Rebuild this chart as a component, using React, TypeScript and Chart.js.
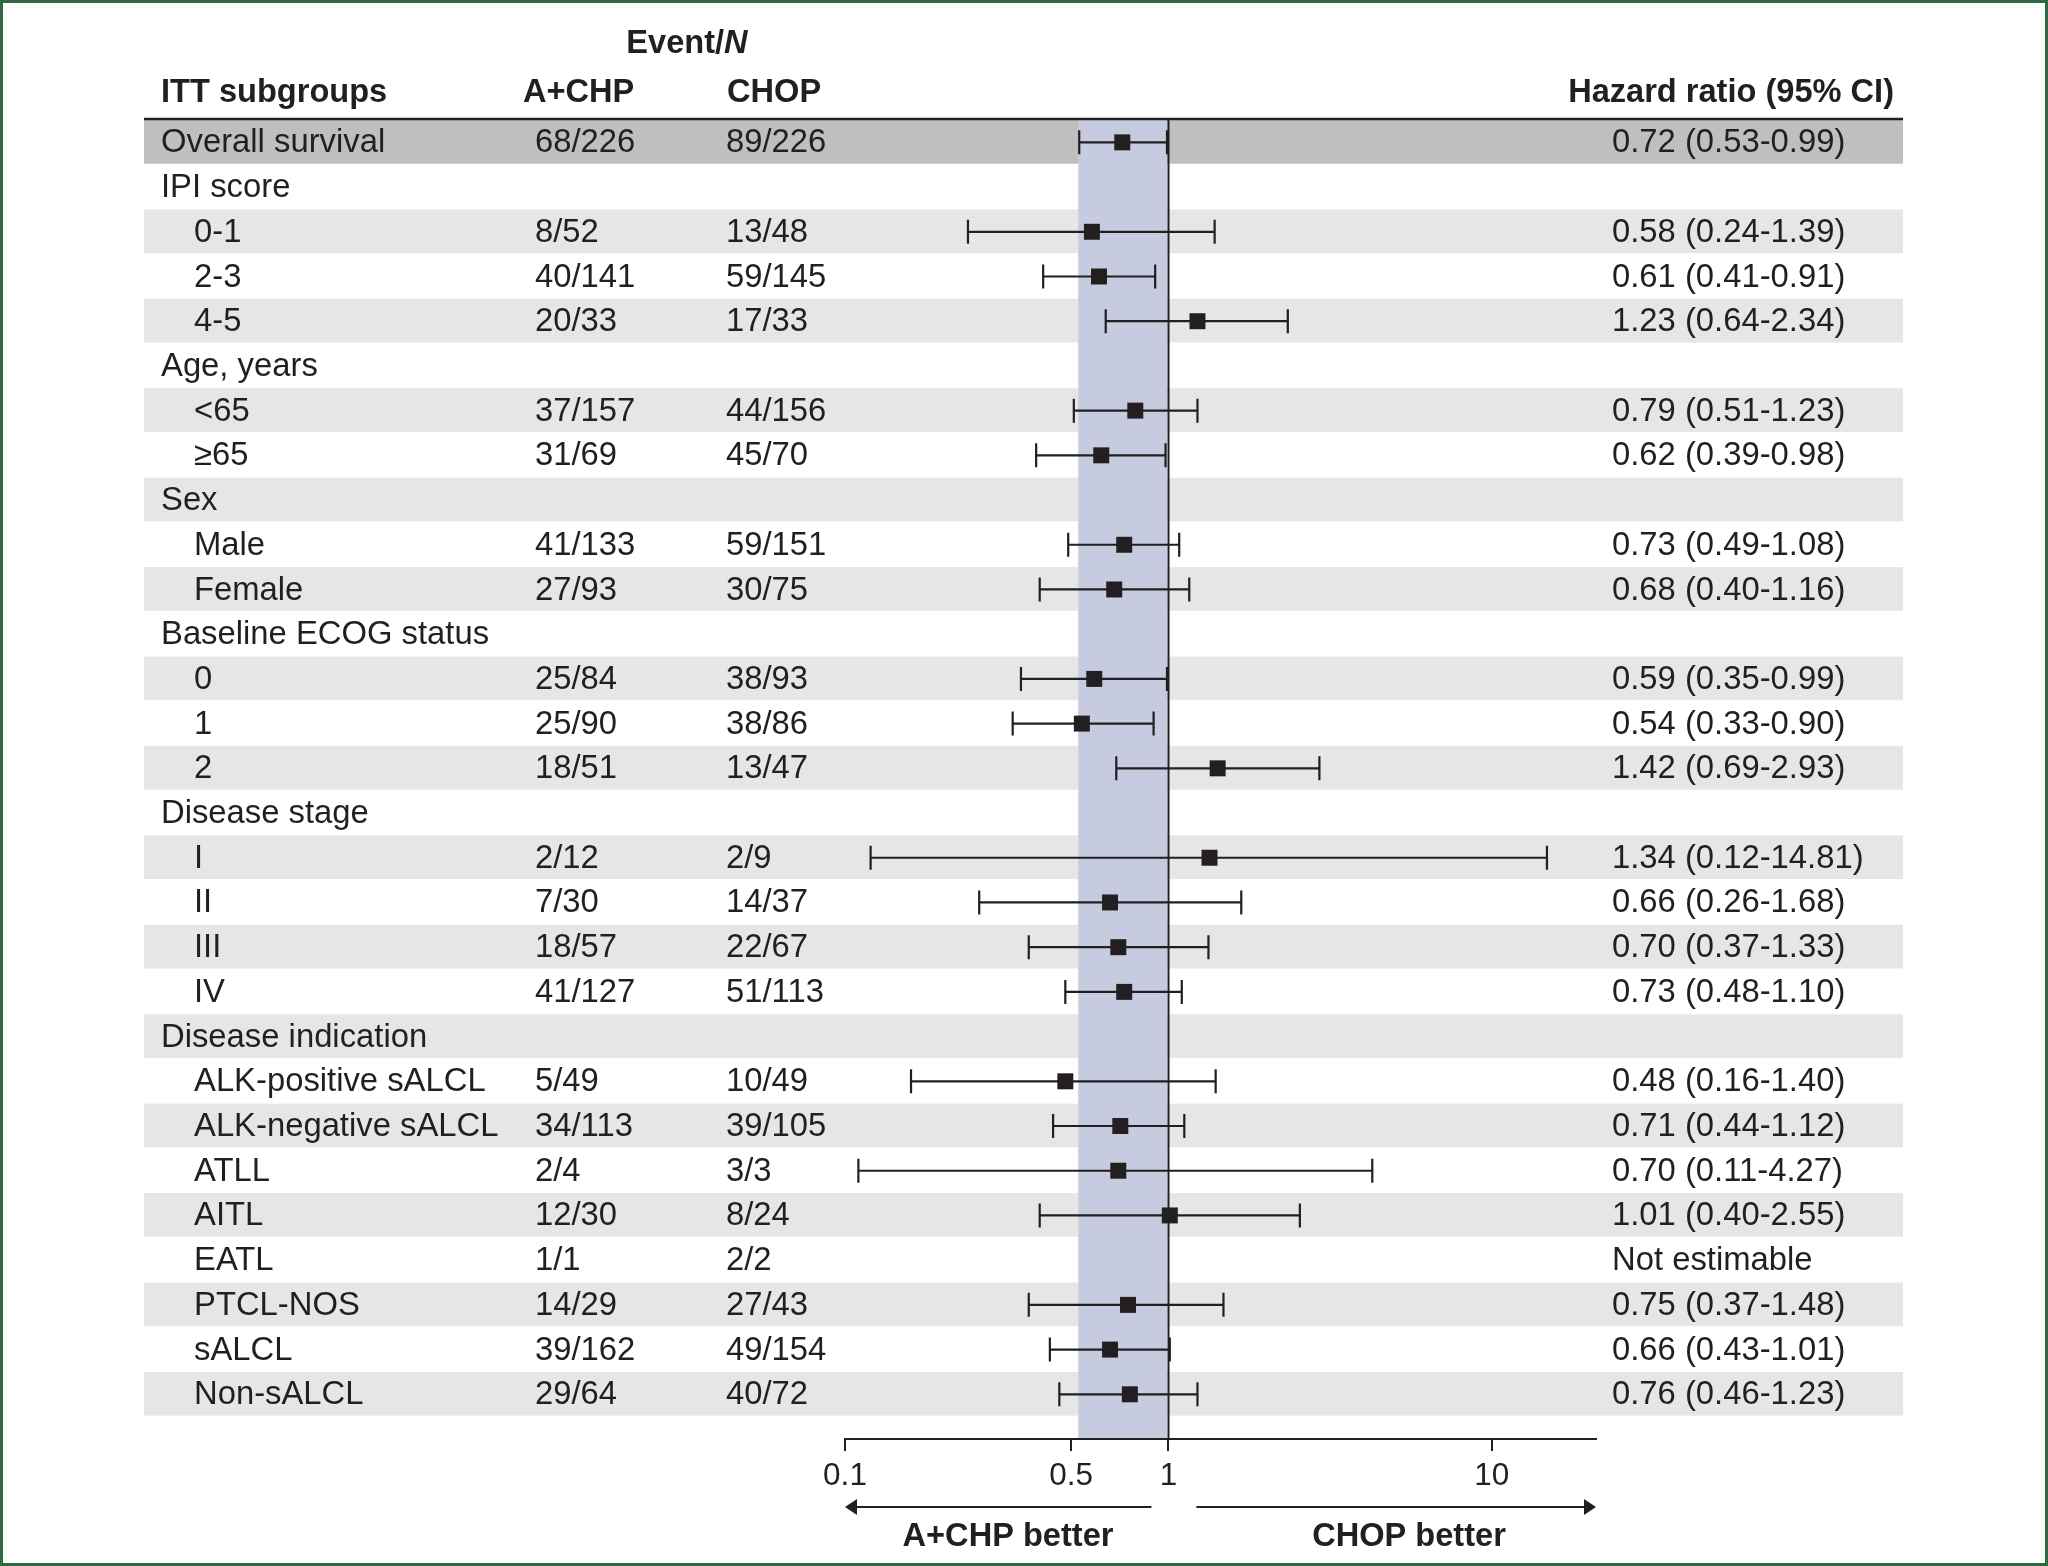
import { useEffect, useRef } from "react";
import { Chart, registerables } from "chart.js";

Chart.register(...registerables);

const subgroups = [
  "Overall survival", "IPI score", "0-1", "2-3", "4-5", "Age, years", "<65", "≥65",
  "Sex", "Male", "Female", "Baseline ECOG status", "0", "1", "2", "Disease stage",
  "I", "II", "III", "IV", "Disease indication", "ALK-positive sALCL", "ALK-negative sALCL",
  "ATLL", "AITL", "EATL", "PTCL-NOS", "sALCL", "Non-sALCL",
];
const indented = [
  false, false, true, true, true, false, true, true, false, true, true, false, true, true, true,
  false, true, true, true, true, false, true, true, true, true, true, true, true, true,
];
const eventsACHP = [
  "68/226", "", "8/52", "40/141", "20/33", "", "37/157", "31/69", "", "41/133", "27/93", "",
  "25/84", "25/90", "18/51", "", "2/12", "7/30", "18/57", "41/127", "", "5/49", "34/113",
  "2/4", "12/30", "1/1", "14/29", "39/162", "29/64",
];
const eventsCHOP = [
  "89/226", "", "13/48", "59/145", "17/33", "", "44/156", "45/70", "", "59/151", "30/75", "",
  "38/93", "38/86", "13/47", "", "2/9", "14/37", "22/67", "51/113", "", "10/49", "39/105",
  "3/3", "8/24", "2/2", "27/43", "49/154", "40/72",
];
const hazardRatio: (number | null)[] = [
  0.72, null, 0.58, 0.61, 1.23, null, 0.79, 0.62, null, 0.73, 0.68, null, 0.59, 0.54, 1.42,
  null, 1.34, 0.66, 0.70, 0.73, null, 0.48, 0.71, 0.70, 1.01, null, 0.75, 0.66, 0.76,
];
const ciLow: (number | null)[] = [
  0.53, null, 0.24, 0.41, 0.64, null, 0.51, 0.39, null, 0.49, 0.40, null, 0.35, 0.33, 0.69,
  null, 0.12, 0.26, 0.37, 0.48, null, 0.16, 0.44, 0.11, 0.40, null, 0.37, 0.43, 0.46,
];
const ciHigh: (number | null)[] = [
  0.99, null, 1.39, 0.91, 2.34, null, 1.23, 0.98, null, 1.08, 1.16, null, 0.99, 0.90, 2.93,
  null, 14.81, 1.68, 1.33, 1.10, null, 1.40, 1.12, 4.27, 2.55, null, 1.48, 1.01, 1.23,
];
const hrLabels = [
  "0.72 (0.53-0.99)", "", "0.58 (0.24-1.39)", "0.61 (0.41-0.91)", "1.23 (0.64-2.34)", "",
  "0.79 (0.51-1.23)", "0.62 (0.39-0.98)", "", "0.73 (0.49-1.08)", "0.68 (0.40-1.16)", "",
  "0.59 (0.35-0.99)", "0.54 (0.33-0.90)", "1.42 (0.69-2.93)", "", "1.34 (0.12-14.81)",
  "0.66 (0.26-1.68)", "0.70 (0.37-1.33)", "0.73 (0.48-1.10)", "", "0.48 (0.16-1.40)",
  "0.71 (0.44-1.12)", "0.70 (0.11-4.27)", "1.01 (0.40-2.55)", "Not estimable",
  "0.75 (0.37-1.48)", "0.66 (0.43-1.01)", "0.76 (0.46-1.23)",
];
const xTicks = [0.1, 0.5, 1, 10];
const xMin = 0.1;
const xMax = 21;

const FONT = "'Liberation Sans', Arial, Helvetica, sans-serif";
const INK = "#231f20";
const TABLE_LEFT = 144;
const TABLE_RIGHT = 1903;
const BOLD = 32.6;
const REG = 32.8;

const forestPlugin = {
  id: "forest",
  beforeDraw(chart: any) {
    const { ctx, chartArea } = chart;
    const x = chart.scales.x;
    const y = chart.scales.y;
    ctx.save();
    ctx.fillStyle = "#ffffff";
    ctx.fillRect(0, 0, chart.width, chart.height);
    for (let i = 0; i < subgroups.length; i++) {
      let fill: string | null = null;
      if (i === 0) fill = "#bfbfc1";
      else if (i % 2 === 0) fill = "#e6e6e7";
      if (!fill) continue;
      const t = y.getPixelForValue(i - 0.5);
      const b = y.getPixelForValue(i + 0.5);
      ctx.fillStyle = fill;
      ctx.fillRect(TABLE_LEFT, t, TABLE_RIGHT - TABLE_LEFT, b - t - 1);
    }
    const bl = x.getPixelForValue(ciLow[0] as number);
    const br = x.getPixelForValue(ciHigh[0] as number);
    ctx.fillStyle = "#c6cbdf";
    ctx.fillRect(bl - 1, chartArea.top, br - bl + 1, chartArea.bottom - chartArea.top);
    ctx.restore();
  },
  beforeDatasetsDraw(chart: any) {
    const { ctx, chartArea } = chart;
    const x = chart.scales.x;
    const y = chart.scales.y;
    ctx.save();
    ctx.strokeStyle = INK;
    const x1 = Math.round(x.getPixelForValue(1)) + 0.5;
    ctx.lineWidth = 2;
    ctx.beginPath();
    ctx.moveTo(x1, chartArea.top);
    ctx.lineTo(x1, chartArea.bottom);
    ctx.stroke();
    ctx.lineWidth = 2.2;
    for (let i = 0; i < subgroups.length; i++) {
      const lo = ciLow[i];
      const hi = ciHigh[i];
      if (lo == null || hi == null) continue;
      const py = y.getPixelForValue(i);
      const xl = x.getPixelForValue(lo);
      const xr = x.getPixelForValue(hi);
      ctx.beginPath();
      ctx.moveTo(xl, py);
      ctx.lineTo(xr, py);
      ctx.moveTo(xl, py - 12);
      ctx.lineTo(xl, py + 12);
      ctx.moveTo(xr, py - 12);
      ctx.lineTo(xr, py + 12);
      ctx.stroke();
    }
    ctx.restore();
  },
  afterDraw(chart: any) {
    const { ctx } = chart;
    const x = chart.scales.x;
    const y = chart.scales.y;
    ctx.save();
    ctx.fillStyle = INK;
    ctx.textBaseline = "middle";

    ctx.font = `bold ${BOLD}px ${FONT}`;
    const w1 = ctx.measureText("Event/").width;
    ctx.font = `italic bold ${BOLD}px ${FONT}`;
    const w2 = ctx.measureText("N").width;
    const ex = 687 - (w1 + w2) / 2;
    ctx.textAlign = "left";
    ctx.font = `bold ${BOLD}px ${FONT}`;
    ctx.fillText("Event/", ex, 44);
    ctx.font = `italic bold ${BOLD}px ${FONT}`;
    ctx.fillText("N", ex + w1, 44);

    ctx.font = `bold ${BOLD}px ${FONT}`;
    ctx.fillText("ITT subgroups", 161, 93);
    ctx.fillText("A+CHP", 523, 93);
    ctx.fillText("CHOP", 727, 93);
    ctx.textAlign = "right";
    ctx.fillText("Hazard ratio (95% CI)", 1894, 93);

    ctx.strokeStyle = INK;
    ctx.lineWidth = 2.5;
    ctx.beginPath();
    ctx.moveTo(TABLE_LEFT, 119);
    ctx.lineTo(TABLE_RIGHT, 119);
    ctx.stroke();

    ctx.font = `${REG}px ${FONT}`;
    ctx.textAlign = "left";
    for (let i = 0; i < subgroups.length; i++) {
      const py = y.getPixelForValue(i) + 1;
      ctx.fillText(subgroups[i], indented[i] ? 194 : 161, py);
      ctx.fillText(eventsACHP[i], 535, py);
      ctx.fillText(eventsCHOP[i], 726, py);
      ctx.fillText(hrLabels[i], 1612, py);
    }

    const x1 = x.getPixelForValue(1);
    const xl = x.getPixelForValue(xMin);
    const xr = x.getPixelForValue(xMax);
    const ay = 1507;
    ctx.lineWidth = 2.2;
    ctx.beginPath();
    ctx.moveTo(xl + 8, ay);
    ctx.lineTo(x1 - 17, ay);
    ctx.moveTo(x1 + 28, ay);
    ctx.lineTo(xr - 8, ay);
    ctx.stroke();
    ctx.beginPath();
    ctx.moveTo(xl, ay);
    ctx.lineTo(xl + 12, ay - 8);
    ctx.lineTo(xl + 12, ay + 8);
    ctx.closePath();
    ctx.fill();
    ctx.beginPath();
    ctx.moveTo(xr, ay);
    ctx.lineTo(xr - 12, ay - 8);
    ctx.lineTo(xr - 12, ay + 8);
    ctx.closePath();
    ctx.fill();

    ctx.font = `bold ${BOLD}px ${FONT}`;
    ctx.textAlign = "center";
    ctx.fillText("A+CHP better", 1008, 1537);
    ctx.fillText("CHOP better", 1409, 1537);

    ctx.strokeStyle = "#2d6a44";
    ctx.lineWidth = 3;
    ctx.strokeRect(1.5, 1.5, chart.width - 3, chart.height - 3);
    ctx.restore();
  },
};

export default function App() {
  const canvasRef = useRef<HTMLCanvasElement | null>(null);

  useEffect(() => {
    document.body.style.margin = "0";
    document.body.style.overflow = "hidden";
    const canvas = canvasRef.current;
    if (!canvas) return;
    const points = hazardRatio
      .map((v, i) => (v == null ? null : { x: v, y: i }))
      .filter((p) => p !== null) as { x: number; y: number }[];
    const chart = new Chart(canvas, {
      type: "scatter",
      data: {
        datasets: [
          {
            data: points,
            pointStyle: "rect",
            pointRadius: 11.3,
            pointBackgroundColor: INK,
            pointBorderWidth: 0,
            pointBorderColor: INK,
          },
        ],
      },
      options: {
        animation: false,
        responsive: false,
        devicePixelRatio: 1,
        layout: { padding: { left: 845, right: 452, top: 120, bottom: 0 } },
        plugins: { legend: { display: false }, tooltip: { enabled: false } },
        scales: {
          x: {
            type: "logarithmic",
            position: "bottom",
            min: xMin,
            max: xMax,
            afterBuildTicks: (scale: any) => {
              scale.ticks = xTicks.map((v) => ({ value: v }));
            },
            afterFit: (scale: any) => {
              scale.height = 127;
            },
            ticks: {
              callback: (v: any) => String(v),
              font: { family: FONT, size: 31.5 },
              color: INK,
              padding: 6,
              maxRotation: 0,
              autoSkip: false,
            },
            grid: {
              display: true,
              drawOnChartArea: false,
              drawTicks: true,
              tickLength: 12,
              color: INK,
              lineWidth: 2,
            },
            border: { display: true, color: INK, width: 2 },
          },
          y: {
            type: "linear",
            min: -0.5,
            max: 29,
            reverse: true,
            display: false,
          },
        },
      },
      plugins: [forestPlugin],
    });
    return () => chart.destroy();
  }, []);

  return (
    <div style={{ position: "absolute", left: 0, top: 0, width: 2048, height: 1566 }}>
      <canvas ref={canvasRef} width={2048} height={1566} style={{ width: 2048, height: 1566 }} />
    </div>
  );
}
